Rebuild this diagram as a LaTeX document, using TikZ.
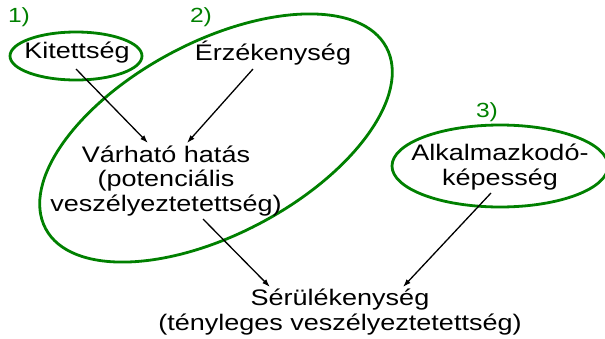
\documentclass[tikz,border=0pt]{standalone}
\usepackage{fontspec}
\setmainfont[FakeStretch=1.2]{Liberation Sans}
\usetikzlibrary{arrows.meta}
\definecolor{ringgreen}{RGB}{0,128,0}
\tikzset{
  ring/.style={draw=ringgreen, line width=2.8pt},
  label/.style={inner sep=0pt, align=center, font=\fontsize{22.5}{24.5}\selectfont},
  numlabel/.style={inner sep=0pt, text=ringgreen, font=\fontsize{20.5}{22}\selectfont},
  link/.style={draw=black, line width=1.3pt, -{Latex[length=8pt,width=5.5pt]}}
}
\begin{document}
\begin{tikzpicture}[x=1pt,y=1pt]
  \useasboundingbox (0,0) rectangle (605,-338);

  % group outlines
  \draw[ring] (76,-56) ellipse [x radius=66, y radius=24];
  \draw[ring, rotate around={28:(216,-138)}] (216,-138) ellipse [x radius=193, y radius=96];
  \draw[ring] (500,-166) ellipse [x radius=108, y radius=41];

  % group numbers
  \node[numlabel] (n1) at (19,-17) {1)};
  \node[numlabel] (n2) at (201,-17) {2)};
  \node[numlabel] (n3) at (487,-112) {3)};

  % factors
  \node[label] (kit) at (77,-53) {Kitettség};
  \node[label] (erz) at (273,-53) {Érzékenység};
  \node[label] (var) at (166,-181) {Várható hatás\\(potenciális\\veszélyeztetettség)};
  \node[label] (alk) at (500,-167) {Alkalmazkodó-\\képesség};
  \node[label] (ser) at (340,-312) {Sérülékenység\\(tényleges veszélyeztetettség)};

  % arrow end points
  \coordinate (kitout) at (76,-69);
  \coordinate (erzout) at (253,-69);
  \coordinate (varinA) at (148,-143);
  \coordinate (varinB) at (187,-143);
  \coordinate (varout) at (203,-219);
  \coordinate (alkout) at (491,-193);
  \coordinate (serinA) at (270,-287);
  \coordinate (serinB) at (403,-287);

  \draw[link] (kitout) -- (varinA);
  \draw[link] (erzout) -- (varinB);
  \draw[link] (varout) -- (serinA);
  \draw[link] (alkout) -- (serinB);
\end{tikzpicture}
\end{document}
